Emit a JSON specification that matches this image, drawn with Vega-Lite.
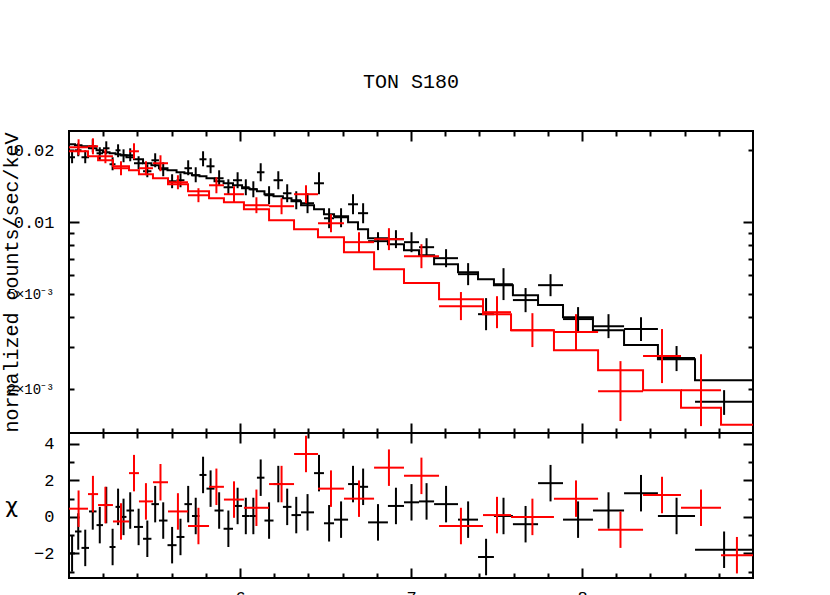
{
"$schema": "https://vega.github.io/schema/vega-lite/v6.json",
"padding": {"left": 0, "top": 72, "right": 10, "bottom": 0},
"title": {"text": "TON S180", "font": "Liberation Mono", "fontSize": 20, "fontWeight": "normal", "color": "black", "offset": 21, "baseline": "alphabetic", "anchor": "middle", "frame": "group"},
"bounds": "flush",
"spacing": 0,
"datasets": {
"bk": [
{"lo":5.000,"hi":5.035,"x":5.018,"y":0.01871,"ylo":0.01766,"yhi":0.02001,"chi":-2.0,"cl":-3.0,"ch":-1.0},
{"lo":5.035,"hi":5.073,"x":5.054,"y":0.02001,"ylo":0.01889,"yhi":0.02141,"chi":-0.8,"cl":-1.8,"ch":0.2},
{"lo":5.073,"hi":5.117,"x":5.095,"y":0.01871,"ylo":0.01766,"yhi":0.02001,"chi":-1.7,"cl":-2.7,"ch":-0.7},
{"lo":5.117,"hi":5.161,"x":5.139,"y":0.02080,"ylo":0.01963,"yhi":0.02225,"chi":0.3,"cl":-0.7,"ch":1.3},
{"lo":5.161,"hi":5.199,"x":5.180,"y":0.01944,"ylo":0.01817,"yhi":0.02060,"chi":-0.45,"cl":-1.45,"ch":0.55},
{"lo":5.199,"hi":5.237,"x":5.218,"y":0.02040,"ylo":0.01925,"yhi":0.02182,"chi":0.65,"cl":-0.35,"ch":1.65},
{"lo":5.237,"hi":5.272,"x":5.255,"y":0.01749,"ylo":0.01650,"yhi":0.01871,"chi":-1.65,"cl":-2.65,"ch":-0.65},
{"lo":5.272,"hi":5.301,"x":5.287,"y":0.02001,"ylo":0.01871,"yhi":0.02120,"chi":0.55,"cl":-0.45,"ch":1.55},
{"lo":5.301,"hi":5.336,"x":5.319,"y":0.01907,"ylo":0.01783,"yhi":0.02020,"chi":0.0,"cl":-1.0,"ch":1.0},
{"lo":5.336,"hi":5.380,"x":5.358,"y":0.01907,"ylo":0.01800,"yhi":0.02040,"chi":0.35,"cl":-0.65,"ch":1.35},
{"lo":5.380,"hi":5.433,"x":5.407,"y":0.01766,"ylo":0.01666,"yhi":0.01889,"chi":-0.55,"cl":-1.55,"ch":0.45},
{"lo":5.433,"hi":5.482,"x":5.458,"y":0.01635,"ylo":0.01543,"yhi":0.01749,"chi":-1.2,"cl":-2.2,"ch":-0.2},
{"lo":5.482,"hi":5.526,"x":5.504,"y":0.01817,"ylo":0.01699,"yhi":0.01944,"chi":0.7,"cl":-0.3,"ch":1.7},
{"lo":5.526,"hi":5.576,"x":5.551,"y":0.01666,"ylo":0.01558,"yhi":0.01783,"chi":-0.2,"cl":-1.2,"ch":0.8},
{"lo":5.576,"hi":5.629,"x":5.603,"y":0.01484,"ylo":0.01388,"yhi":0.01588,"chi":-1.55,"cl":-2.55,"ch":-0.55},
{"lo":5.629,"hi":5.675,"x":5.652,"y":0.01499,"ylo":0.01401,"yhi":0.01603,"chi":-1.1,"cl":-2.1,"ch":-0.1},
{"lo":5.675,"hi":5.719,"x":5.697,"y":0.01683,"ylo":0.01573,"yhi":0.01817,"chi":0.7,"cl":-0.3,"ch":1.7},
{"lo":5.719,"hi":5.763,"x":5.741,"y":0.01573,"ylo":0.01470,"yhi":0.01699,"chi":0.05,"cl":-0.95,"ch":1.05},
{"lo":5.763,"hi":5.804,"x":5.784,"y":0.01835,"ylo":0.01715,"yhi":0.01982,"chi":2.3,"cl":1.3,"ch":3.3},
{"lo":5.804,"hi":5.851,"x":5.828,"y":0.01715,"ylo":0.01603,"yhi":0.01853,"chi":1.55,"cl":0.55,"ch":2.55},
{"lo":5.851,"hi":5.904,"x":5.878,"y":0.01528,"ylo":0.01428,"yhi":0.01650,"chi":0.35,"cl":-0.65,"ch":1.35},
{"lo":5.904,"hi":5.959,"x":5.932,"y":0.01401,"ylo":0.01310,"yhi":0.01513,"chi":-0.65,"cl":-1.65,"ch":0.35},
{"lo":5.959,"hi":6.012,"x":5.986,"y":0.01499,"ylo":0.01388,"yhi":0.01619,"chi":0.6,"cl":-0.4,"ch":1.6},
{"lo":6.012,"hi":6.056,"x":6.034,"y":0.01401,"ylo":0.01297,"yhi":0.01513,"chi":0.05,"cl":-0.95,"ch":1.05},
{"lo":6.056,"hi":6.099,"x":6.078,"y":0.01374,"ylo":0.01272,"yhi":0.01484,"chi":0.05,"cl":-0.95,"ch":1.05},
{"lo":6.099,"hi":6.143,"x":6.121,"y":0.01619,"ylo":0.01484,"yhi":0.01766,"chi":2.15,"cl":1.15,"ch":3.15},
{"lo":6.143,"hi":6.196,"x":6.170,"y":0.01297,"ylo":0.01189,"yhi":0.01415,"chi":-0.2,"cl":-1.2,"ch":0.8},
{"lo":6.196,"hi":6.251,"x":6.224,"y":0.01499,"ylo":0.01374,"yhi":0.01635,"chi":1.8,"cl":0.8,"ch":2.8},
{"lo":6.251,"hi":6.301,"x":6.276,"y":0.01322,"ylo":0.01213,"yhi":0.01442,"chi":0.55,"cl":-0.45,"ch":1.55},
{"lo":6.301,"hi":6.357,"x":6.329,"y":0.01236,"ylo":0.01133,"yhi":0.01348,"chi":0.1,"cl":-0.9,"ch":1.1},
{"lo":6.357,"hi":6.433,"x":6.395,"y":0.01201,"ylo":0.01091,"yhi":0.01322,"chi":0.25,"cl":-0.75,"ch":1.25},
{"lo":6.433,"hi":6.491,"x":6.462,"y":0.01456,"ylo":0.01310,"yhi":0.01619,"chi":2.4,"cl":1.4,"ch":3.4},
{"lo":6.491,"hi":6.550,"x":6.521,"y":0.01039,"ylo":0.00944,"yhi":0.01144,"chi":-0.35,"cl":-1.35,"ch":0.65},
{"lo":6.550,"hi":6.632,"x":6.591,"y":0.01049,"ylo":0.00953,"yhi":0.01144,"chi":-0.15,"cl":-1.15,"ch":0.85},
{"lo":6.632,"hi":6.690,"x":6.661,"y":0.01189,"ylo":0.01080,"yhi":0.01310,"chi":1.8,"cl":0.8,"ch":2.8},
{"lo":6.690,"hi":6.749,"x":6.720,"y":0.01091,"ylo":0.00990,"yhi":0.01201,"chi":1.65,"cl":0.65,"ch":2.65},
{"lo":6.749,"hi":6.865,"x":6.807,"y":0.00833,"ylo":0.00764,"yhi":0.00908,"chi":-0.3,"cl":-1.3,"ch":0.7},
{"lo":6.865,"hi":6.959,"x":6.912,"y":0.00849,"ylo":0.00779,"yhi":0.00926,"chi":0.6,"cl":-0.4,"ch":1.6},
{"lo":6.959,"hi":7.047,"x":7.003,"y":0.00825,"ylo":0.00749,"yhi":0.00908,"chi":0.8,"cl":-0.2,"ch":1.8},
{"lo":7.047,"hi":7.135,"x":7.091,"y":0.00786,"ylo":0.00721,"yhi":0.00857,"chi":0.85,"cl":-0.15,"ch":1.85},
{"lo":7.135,"hi":7.275,"x":7.205,"y":0.00707,"ylo":0.00648,"yhi":0.00771,"chi":0.7,"cl":-0.3,"ch":1.7},
{"lo":7.275,"hi":7.392,"x":7.334,"y":0.00606,"ylo":0.00545,"yhi":0.00674,"chi":-0.15,"cl":-1.15,"ch":0.85},
{"lo":7.392,"hi":7.485,"x":7.439,"y":0.00412,"ylo":0.00353,"yhi":0.00481,"chi":-2.2,"cl":-3.2,"ch":-1.2},
{"lo":7.485,"hi":7.596,"x":7.541,"y":0.00550,"ylo":0.00472,"yhi":0.00642,"chi":0.05,"cl":-0.95,"ch":1.05},
{"lo":7.596,"hi":7.743,"x":7.670,"y":0.00472,"ylo":0.00420,"yhi":0.00530,"chi":-0.4,"cl":-1.4,"ch":0.6},
{"lo":7.743,"hi":7.889,"x":7.816,"y":0.00545,"ylo":0.00490,"yhi":0.00606,"chi":1.85,"cl":0.85,"ch":2.85},
{"lo":7.889,"hi":8.064,"x":7.977,"y":0.00393,"ylo":0.00350,"yhi":0.00441,"chi":-0.15,"cl":-1.15,"ch":0.85},
{"lo":8.064,"hi":8.246,"x":8.155,"y":0.00367,"ylo":0.00327,"yhi":0.00412,"chi":0.35,"cl":-0.65,"ch":1.35},
{"lo":8.246,"hi":8.444,"x":8.345,"y":0.00357,"ylo":0.00318,"yhi":0.00400,"chi":1.3,"cl":0.3,"ch":2.3},
{"lo":8.444,"hi":8.661,"x":8.553,"y":0.00270,"ylo":0.00238,"yhi":0.00303,"chi":0.05,"cl":-0.95,"ch":1.05},
{"lo":8.661,"hi":9.000,"x":8.831,"y":0.00177,"ylo":0.00156,"yhi":0.00198,"chi":-1.8,"cl":-2.8,"ch":-0.8}
],
"rd": [
{"lo":5.000,"hi":5.111,"x":5.056,"y":0.02060,"ylo":0.01907,"yhi":0.02225,"chi":0.45,"cl":-0.55,"ch":1.45},
{"lo":5.111,"hi":5.170,"x":5.140,"y":0.02080,"ylo":0.01925,"yhi":0.02246,"chi":1.25,"cl":0.25,"ch":2.25},
{"lo":5.170,"hi":5.257,"x":5.213,"y":0.01889,"ylo":0.01766,"yhi":0.02020,"chi":0.65,"cl":-0.35,"ch":1.65},
{"lo":5.257,"hi":5.351,"x":5.304,"y":0.01683,"ylo":0.01573,"yhi":0.01800,"chi":-0.25,"cl":-1.25,"ch":0.75},
{"lo":5.351,"hi":5.409,"x":5.380,"y":0.01982,"ylo":0.01835,"yhi":0.02141,"chi":2.4,"cl":1.4,"ch":3.4},
{"lo":5.409,"hi":5.491,"x":5.450,"y":0.01683,"ylo":0.01573,"yhi":0.01800,"chi":0.85,"cl":-0.15,"ch":1.85},
{"lo":5.491,"hi":5.579,"x":5.535,"y":0.01766,"ylo":0.01635,"yhi":0.01907,"chi":1.9,"cl":0.9,"ch":2.9},
{"lo":5.579,"hi":5.696,"x":5.637,"y":0.01470,"ylo":0.01374,"yhi":0.01573,"chi":0.3,"cl":-0.7,"ch":1.3},
{"lo":5.696,"hi":5.819,"x":5.757,"y":0.01297,"ylo":0.01213,"yhi":0.01388,"chi":-0.5,"cl":-1.5,"ch":0.5},
{"lo":5.819,"hi":5.906,"x":5.862,"y":0.01428,"ylo":0.01322,"yhi":0.01543,"chi":1.65,"cl":0.65,"ch":2.65},
{"lo":5.906,"hi":6.023,"x":5.965,"y":0.01310,"ylo":0.01213,"yhi":0.01415,"chi":0.95,"cl":-0.05,"ch":1.95},
{"lo":6.023,"hi":6.170,"x":6.096,"y":0.01178,"ylo":0.01091,"yhi":0.01272,"chi":0.5,"cl":-0.5,"ch":1.5},
{"lo":6.170,"hi":6.316,"x":6.243,"y":0.01167,"ylo":0.01080,"yhi":0.01260,"chi":1.8,"cl":0.8,"ch":2.8},
{"lo":6.316,"hi":6.456,"x":6.386,"y":0.01310,"ylo":0.01201,"yhi":0.01428,"chi":3.45,"cl":2.45,"ch":4.45},
{"lo":6.456,"hi":6.608,"x":6.532,"y":0.00990,"ylo":0.00908,"yhi":0.01080,"chi":1.55,"cl":0.55,"ch":2.55},
{"lo":6.608,"hi":6.784,"x":6.696,"y":0.00825,"ylo":0.00749,"yhi":0.00908,"chi":1.0,"cl":0.0,"ch":2.0},
{"lo":6.784,"hi":6.959,"x":6.871,"y":0.00849,"ylo":0.00764,"yhi":0.00944,"chi":2.7,"cl":1.7,"ch":3.7},
{"lo":6.959,"hi":7.164,"x":7.061,"y":0.00721,"ylo":0.00642,"yhi":0.00809,"chi":2.25,"cl":1.25,"ch":3.25},
{"lo":7.164,"hi":7.421,"x":7.292,"y":0.00445,"ylo":0.00389,"yhi":0.00510,"chi":-0.5,"cl":-1.5,"ch":0.5},
{"lo":7.421,"hi":7.585,"x":7.503,"y":0.00420,"ylo":0.00360,"yhi":0.00490,"chi":0.1,"cl":-0.9,"ch":1.1},
{"lo":7.585,"hi":7.836,"x":7.710,"y":0.00353,"ylo":0.00300,"yhi":0.00416,"chi":0.0,"cl":-1.0,"ch":1.0},
{"lo":7.836,"hi":8.094,"x":7.965,"y":0.00347,"ylo":0.00291,"yhi":0.00412,"chi":1.0,"cl":0.0,"ch":2.0},
{"lo":8.094,"hi":8.357,"x":8.225,"y":0.00196,"ylo":0.00147,"yhi":0.00262,"chi":-0.7,"cl":-1.7,"ch":0.3},
{"lo":8.357,"hi":8.579,"x":8.468,"y":0.00275,"ylo":0.00212,"yhi":0.00357,"chi":1.2,"cl":0.2,"ch":2.2},
{"lo":8.579,"hi":8.813,"x":8.696,"y":0.00198,"ylo":0.00140,"yhi":0.00280,"chi":0.5,"cl":-0.5,"ch":1.5},
{"lo":8.813,"hi":9.000,"x":8.906,"y":0.00063,"ylo":0.00043,"yhi":0.00093,"chi":-2.1,"cl":-3.1,"ch":-1.1}
],
"bkm": [
{"e":5.000,"m":0.02120},{"e":5.035,"m":0.02100},{"e":5.073,"m":0.02080},{"e":5.117,"m":0.02040},{"e":5.161,"m":0.02001},{"e":5.199,"m":0.01963},{"e":5.237,"m":0.01944},{"e":5.272,"m":0.01925},{"e":5.301,"m":0.01907},{"e":5.336,"m":0.01871},{"e":5.380,"m":0.01835},{"e":5.433,"m":0.01766},{"e":5.482,"m":0.01732},{"e":5.526,"m":0.01683},{"e":5.576,"m":0.01650},{"e":5.629,"m":0.01619},{"e":5.675,"m":0.01603},{"e":5.719,"m":0.01573},{"e":5.763,"m":0.01558},{"e":5.804,"m":0.01528},{"e":5.851,"m":0.01484},{"e":5.904,"m":0.01456},{"e":5.959,"m":0.01428},{"e":6.012,"m":0.01388},{"e":6.056,"m":0.01374},{"e":6.099,"m":0.01348},{"e":6.143,"m":0.01310},{"e":6.196,"m":0.01285},{"e":6.251,"m":0.01260},{"e":6.301,"m":0.01224},{"e":6.357,"m":0.01178},{"e":6.433,"m":0.01133},{"e":6.491,"m":0.01080},{"e":6.550,"m":0.01060},{"e":6.632,"m":0.01000},{"e":6.690,"m":0.00935},{"e":6.749,"m":0.00857},{"e":6.865,"m":0.00809},{"e":6.959,"m":0.00764},{"e":7.047,"m":0.00728},{"e":7.135,"m":0.00667},{"e":7.275,"m":0.00618},{"e":7.392,"m":0.00577},{"e":7.485,"m":0.00545},{"e":7.596,"m":0.00495},{"e":7.743,"m":0.00450},{"e":7.889,"m":0.00400},{"e":8.064,"m":0.00353},{"e":8.246,"m":0.00306},{"e":8.444,"m":0.00267},{"e":8.661,"m":0.00218},{"e":9.000,"m":0.00218}
],
"rdm": [
{"e":5.000,"m":0.01982},{"e":5.111,"m":0.01889},{"e":5.170,"m":0.01817},{"e":5.257,"m":0.01715},{"e":5.351,"m":0.01650},{"e":5.409,"m":0.01588},{"e":5.491,"m":0.01528},{"e":5.579,"m":0.01442},{"e":5.696,"m":0.01348},{"e":5.819,"m":0.01260},{"e":5.906,"m":0.01213},{"e":6.023,"m":0.01133},{"e":6.170,"m":0.01020},{"e":6.316,"m":0.00935},{"e":6.456,"m":0.00865},{"e":6.608,"m":0.00749},{"e":6.784,"m":0.00636},{"e":6.959,"m":0.00556},{"e":7.164,"m":0.00476},{"e":7.421,"m":0.00412},{"e":7.585,"m":0.00353},{"e":7.836,"m":0.00291},{"e":8.094,"m":0.00240},{"e":8.357,"m":0.00198},{"e":8.579,"m":0.00167},{"e":8.813,"m":0.00142},{"e":9.000,"m":0.00142}
]
},
"vconcat": [
{
"width": 684, "height": 302,
"resolve": {"axis": {"x": "independent", "y": "independent"}},
"layer": [
{"data": {"name": "bk"}, "mark": {"type": "rule", "color": "black", "strokeWidth": 2, "clip": true},
 "encoding": {
  "x": {"field": "lo", "type": "quantitative", "scale": {"domain": [5, 9], "nice": false, "zero": false}, "axis": {"orient": "bottom", "values": [6, 7, 8], "tickSize": -10, "labels": false, "title": null}},
  "x2": {"field": "hi"},
  "y": {"field": "y", "type": "quantitative", "scale": {"type": "log", "domain": [0.00131, 0.0241], "nice": false}, "axis": {"orient": "left", "values": [0.002, 0.005, 0.01, 0.02], "ticks": false, "labelPadding": 15, "labelFontSize": {"condition": {"test": "datum.value < 0.009", "value": 14}, "value": 17}, "labelExpr": "datum.value == 0.02 ? '0.02' : datum.value == 0.01 ? '0.01' : datum.value == 0.005 ? '5×10⁻³' : '2×10⁻³'", "title": "normalized counts/sec/keV", "titleX": -52, "titleY": 151, "titleAngle": -90, "titleAlign": "center", "titleBaseline": "alphabetic", "titleFont": "Liberation Mono", "titleFontSize": 20, "titleFontWeight": "normal"}}
 }},
{"data": {"name": "bk"}, "mark": {"type": "rule", "color": "black", "strokeWidth": 2, "clip": true},
 "encoding": {
  "x": {"field": "x", "type": "quantitative", "scale": {"domain": [5, 9], "nice": false, "zero": false}, "axis": {"orient": "bottom", "values": [5.2,5.4,5.6,5.8,6.2,6.4,6.6,6.8,7.2,7.4,7.6,7.8,8.2,8.4,8.6,8.8], "tickSize": -5, "labels": false, "title": null}},
  "y": {"field": "ylo", "type": "quantitative", "scale": {"type": "log", "domain": [0.00131, 0.0241], "nice": false}, "axis": {"orient": "left", "values": [0.01], "tickSize": -10, "labels": false, "title": null}},
  "y2": {"field": "yhi"}
 }},
{"data": {"name": "bkm"}, "mark": {"type": "line", "color": "black", "strokeWidth": 2, "interpolate": "step-after", "clip": true},
 "encoding": {
  "x": {"field": "e", "type": "quantitative", "scale": {"domain": [5, 9], "nice": false, "zero": false}, "axis": {"orient": "top", "values": [6, 7, 8], "tickSize": -10, "labels": false, "title": null}},
  "y": {"field": "m", "type": "quantitative", "scale": {"type": "log", "domain": [0.00131, 0.0241], "nice": false}, "axis": {"orient": "left", "values": [0.002,0.003,0.004,0.005,0.006,0.007,0.008,0.009,0.02], "tickSize": -5, "labels": false, "title": null}}
 }},
{"data": {"name": "rd"}, "mark": {"type": "rule", "color": "#ff0000", "strokeWidth": 2, "clip": true},
 "encoding": {
  "x": {"field": "lo", "type": "quantitative", "scale": {"domain": [5, 9], "nice": false, "zero": false}, "axis": {"orient": "top", "values": [5.2,5.4,5.6,5.8,6.2,6.4,6.6,6.8,7.2,7.4,7.6,7.8,8.2,8.4,8.6,8.8], "tickSize": -5, "labels": false, "title": null}},
  "x2": {"field": "hi"},
  "y": {"field": "y", "type": "quantitative", "scale": {"type": "log", "domain": [0.00131, 0.0241], "nice": false}, "axis": {"orient": "right", "values": [0.01], "tickSize": -10, "labels": false, "title": null}}
 }},
{"data": {"name": "rd"}, "mark": {"type": "rule", "color": "#ff0000", "strokeWidth": 2, "clip": true},
 "encoding": {
  "x": {"field": "x", "type": "quantitative", "scale": {"domain": [5, 9], "nice": false, "zero": false}, "axis": null},
  "y": {"field": "ylo", "type": "quantitative", "scale": {"type": "log", "domain": [0.00131, 0.0241], "nice": false}, "axis": {"orient": "right", "values": [0.002,0.003,0.004,0.005,0.006,0.007,0.008,0.009,0.02], "tickSize": -5, "labels": false, "title": null}},
  "y2": {"field": "yhi"}
 }},
{"data": {"name": "rdm"}, "mark": {"type": "line", "color": "#ff0000", "strokeWidth": 2, "interpolate": "step-after", "clip": true},
 "encoding": {
  "x": {"field": "e", "type": "quantitative", "scale": {"domain": [5, 9], "nice": false, "zero": false}, "axis": null},
  "y": {"field": "m", "type": "quantitative", "scale": {"type": "log", "domain": [0.00131, 0.0241], "nice": false}, "axis": null}
 }}
]
},
{
"width": 684, "height": 145,
"resolve": {"axis": {"x": "independent", "y": "independent"}},
"layer": [
{"mark": {"type": "rule", "color": "black", "strokeWidth": 2, "strokeDash": [12, 7]},
 "encoding": {
  "y": {"datum": 0, "type": "quantitative", "scale": {"domain": [-3.35, 4.6], "nice": false, "zero": false}, "axis": null}
 }},
{"data": {"name": "bk"}, "mark": {"type": "rule", "color": "black", "strokeWidth": 2, "clip": true},
 "encoding": {
  "x": {"field": "lo", "type": "quantitative", "scale": {"domain": [5, 9], "nice": false, "zero": false}, "axis": {"orient": "bottom", "values": [6, 7, 8], "tickSize": -10, "labelPadding": 21, "labelBaseline": "top", "title": null}},
  "x2": {"field": "hi"},
  "y": {"field": "chi", "type": "quantitative", "scale": {"domain": [-3.35, 4.6], "nice": false, "zero": false}, "axis": {"orient": "left", "values": [-2, 0, 2, 4], "tickSize": -10, "labelPadding": 25, "title": "χ", "titleX": -58, "titleY": 72, "titleAngle": 0, "titleAlign": "center", "titleBaseline": "middle", "titleFont": "DejaVu Sans", "titleFontSize": 22, "titleFontWeight": "normal"}}
 }},
{"data": {"name": "bk"}, "mark": {"type": "rule", "color": "black", "strokeWidth": 2, "clip": true},
 "encoding": {
  "x": {"field": "x", "type": "quantitative", "scale": {"domain": [5, 9], "nice": false, "zero": false}, "axis": {"orient": "bottom", "values": [5.2,5.4,5.6,5.8,6.2,6.4,6.6,6.8,7.2,7.4,7.6,7.8,8.2,8.4,8.6,8.8], "tickSize": -5, "labels": false, "title": null}},
  "y": {"field": "cl", "type": "quantitative", "scale": {"domain": [-3.35, 4.6], "nice": false, "zero": false}, "axis": {"orient": "left", "values": [-3, -1, 1, 3], "tickSize": -5, "labels": false, "title": null}},
  "y2": {"field": "ch"}
 }},
{"data": {"name": "rd"}, "mark": {"type": "rule", "color": "#ff0000", "strokeWidth": 2, "clip": true},
 "encoding": {
  "x": {"field": "lo", "type": "quantitative", "scale": {"domain": [5, 9], "nice": false, "zero": false}, "axis": {"orient": "top", "values": [6, 7, 8], "tickSize": -10, "labels": false, "title": null}},
  "x2": {"field": "hi"},
  "y": {"field": "chi", "type": "quantitative", "scale": {"domain": [-3.35, 4.6], "nice": false, "zero": false}, "axis": {"orient": "right", "values": [-2, 0, 2, 4], "tickSize": -10, "labels": false, "title": null}}
 }},
{"data": {"name": "rd"}, "mark": {"type": "rule", "color": "#ff0000", "strokeWidth": 2, "clip": true},
 "encoding": {
  "x": {"field": "x", "type": "quantitative", "scale": {"domain": [5, 9], "nice": false, "zero": false}, "axis": {"orient": "top", "values": [5.2,5.4,5.6,5.8,6.2,6.4,6.6,6.8,7.2,7.4,7.6,7.8,8.2,8.4,8.6,8.8], "tickSize": -5, "labels": false, "title": null}},
  "y": {"field": "cl", "type": "quantitative", "scale": {"domain": [-3.35, 4.6], "nice": false, "zero": false}, "axis": {"orient": "right", "values": [-3, -1, 1, 3], "tickSize": -5, "labels": false, "title": null}},
  "y2": {"field": "ch"}
 }}
]
}
],
"config": {
 "view": {"stroke": "black", "strokeWidth": 2},
 "axis": {"domain": false, "grid": false, "tickColor": "black", "tickWidth": 2, "labelFont": "Liberation Mono", "labelFontSize": 17, "labelColor": "black", "titleColor": "black"}
}
}
